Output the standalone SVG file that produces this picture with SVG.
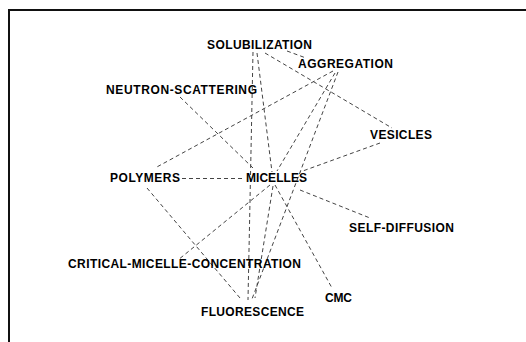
<svg xmlns="http://www.w3.org/2000/svg" width="526" height="342" viewBox="0 0 526 342">
  <style>
    .bg { fill: #ffffff; }
    .frame { fill: none; stroke: #111111; stroke-width: 2; }
    .edge { fill: none; stroke: #444444; stroke-width: 1; stroke-dasharray: 4 3; }
    .label { font-family: "Liberation Sans", Arial, sans-serif; font-size: 12px; font-weight: bold; fill: #000000; }
  </style>
  <rect class="bg" x="0" y="0" width="526" height="342"/>
  <!-- panel frame, open to the right and bottom -->
  <path class="frame" d="M9,342 V10 H526"/>

  <g id="connectors">
    <line class="edge" x1="287" y1="51" x2="306" y2="58"/>
    <line class="edge" x1="265" y1="53" x2="392" y2="128"/>
    <line class="edge" x1="257" y1="53" x2="272" y2="172"/>
    <line class="edge" x1="253" y1="52" x2="248" y2="300"/>
    <line class="edge" x1="180" y1="97" x2="253" y2="168"/>
    <line class="edge" x1="333" y1="71" x2="155" y2="168"/>
    <line class="edge" x1="335" y1="73" x2="277" y2="171"/>
    <line class="edge" x1="338" y1="72" x2="252" y2="299"/>
    <line class="edge" x1="380" y1="143" x2="300" y2="172"/>
    <line class="edge" x1="182" y1="178.5" x2="245" y2="178.5"/>
    <line class="edge" x1="147" y1="188" x2="240" y2="298"/>
    <line class="edge" x1="270" y1="185" x2="178" y2="260"/>
    <line class="edge" x1="300" y1="190" x2="370" y2="218"/>
    <line class="edge" x1="275" y1="185" x2="332" y2="288"/>
    <line class="edge" x1="273" y1="186" x2="255" y2="298"/>
  </g>

  <g id="node-solubilization"><text class="label" x="207" y="49" textLength="105">SOLUBILIZATION</text></g>
  <g id="node-aggregation"><text class="label" x="298" y="68" textLength="95">AGGREGATION</text></g>
  <g id="node-neutron-scattering"><text class="label" x="106" y="94" textLength="151">NEUTRON-SCATTERING</text></g>
  <g id="node-vesicles"><text class="label" x="370" y="139" textLength="62">VESICLES</text></g>
  <g id="node-polymers"><text class="label" x="110" y="182" textLength="70">POLYMERS</text></g>
  <g id="node-micelles"><text class="label" x="246" y="182" textLength="61">MICELLES</text></g>
  <g id="node-self-diffusion"><text class="label" x="349" y="232" textLength="105">SELF-DIFFUSION</text></g>
  <g id="node-critical-micelle-concentration"><text class="label" x="68" y="268" textLength="233">CRITICAL-MICELLE-CONCENTRATION</text></g>
  <g id="node-cmc"><text class="label" x="325" y="302" textLength="27">CMC</text></g>
  <g id="node-fluorescence"><text class="label" x="201" y="316" textLength="103">FLUORESCENCE</text></g>
</svg>
